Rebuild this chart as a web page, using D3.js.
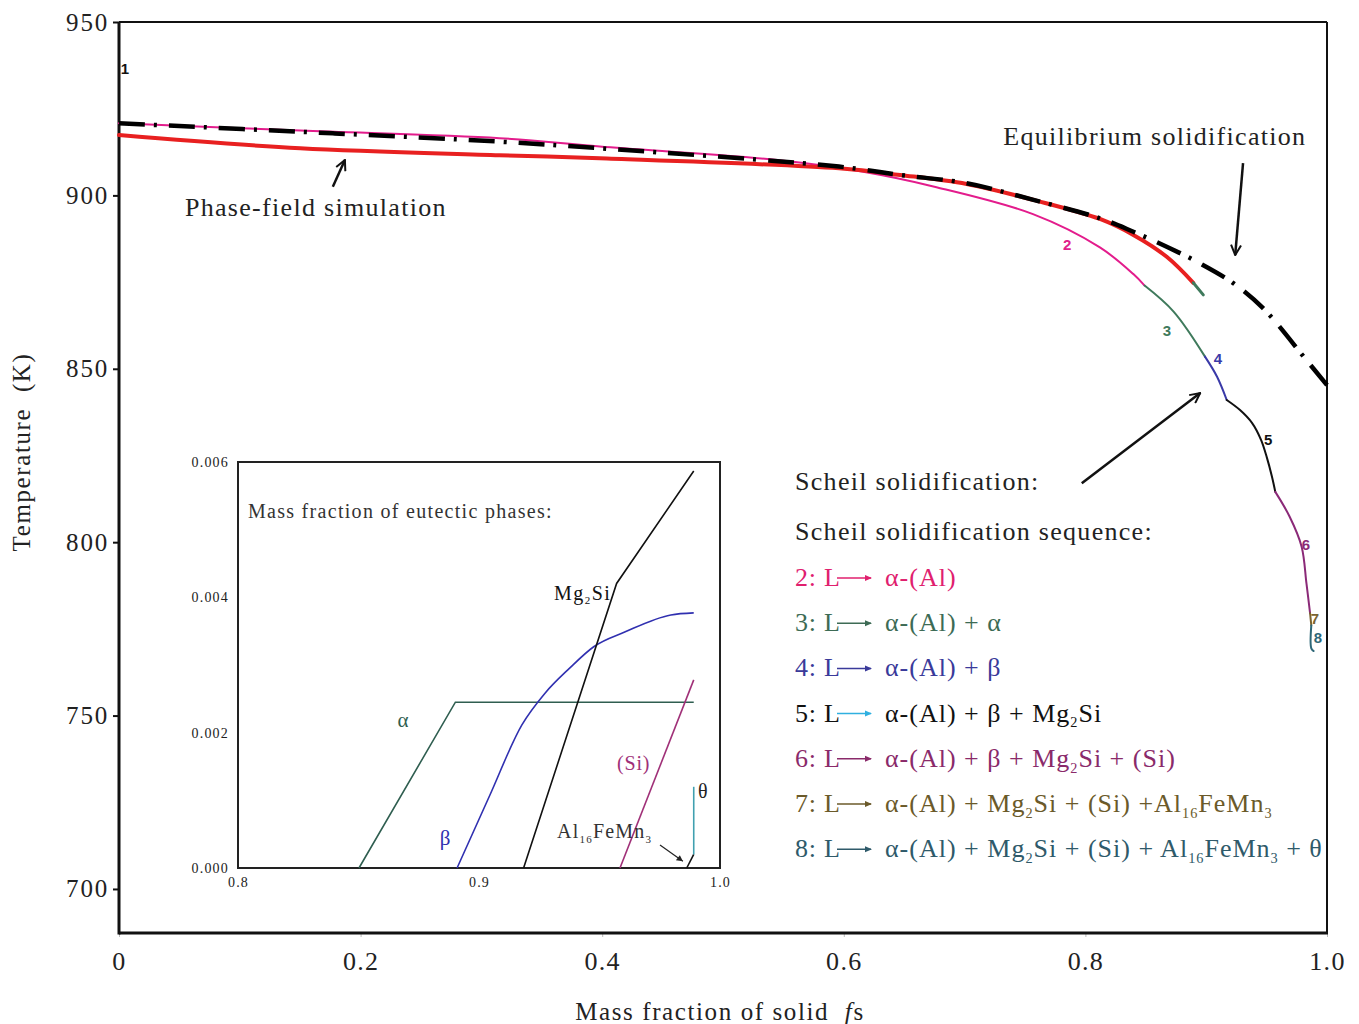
<!DOCTYPE html>
<html>
<head>
<meta charset="utf-8">
<script src="https://cdn.jsdelivr.net/npm/d3@7"></script>
<style>
  body { margin: 0; background: #fff; }
  svg text { font-family: "Liberation Serif", "Times New Roman", serif; }
  .num { font-family: "Liberation Sans", Arial, sans-serif; font-weight: bold; font-size: 15px; letter-spacing: 0; }
</style>
</head>
<body>
<svg id="chart" width="1359" height="1024"></svg>
<script>
// ---- data ----
const xTicks = [0, 0.2, 0.4, 0.6, 0.8, 1.0];
const yTicks = [700, 750, 800, 850, 900, 950];

// [fs, T]
const equilibrium = [[0, 920.8], [0.177, 917.9], [0.315, 915.5], [0.398, 913.6], [0.596, 908.3],
  [0.6465, 905.9], [0.7017, 903.5], [0.757, 898.7], [0.812, 893.4], [0.8397, 889.5], [0.8673, 885.2],
  [0.8949, 880.4], [0.9224, 874.7], [0.9473, 867.4], [0.983, 852.5], [1.0, 845.3]];
const phaseField = [[0, 917.4], [0.15, 913.6], [0.315, 911.6], [0.398, 910.7], [0.596, 907.8],
  [0.6465, 905.9], [0.7017, 903.3], [0.757, 898.7], [0.812, 893.2], [0.8397, 888.6], [0.8673, 882.3],
  [0.8893, 874.8]];
const phaseFieldTail = [[0.8893, 874.8], [0.8976, 871.3]];

const scheil2 = [[0, 920.8], [0.15, 918.7], [0.315, 916.5], [0.398, 914.1], [0.545, 910.2],
  [0.616, 906.8], [0.675, 902.5], [0.7566, 894.6], [0.812, 885.0], [0.8397, 877.3], [0.849, 874.0]];
const scheil3 = [[0.849, 874.0], [0.873, 866.5], [0.899, 853.5]];
const scheil4 = [[0.899, 853.5], [0.909, 847.7], [0.917, 841.0]];
const scheil5 = [[0.917, 841.0], [0.928, 838.1], [0.9379, 834.4], [0.9454, 829.5], [0.9503, 824.3],
  [0.9545, 818.8], [0.9572, 814.5]];
const scheil6 = [[0.9572, 814.5], [0.969, 807.4], [0.979, 798.7], [0.983, 788.1], [0.986, 779.5]];
const scheil7 = [[0.986, 779.5], [0.987, 776.0]];
const scheil8 = [[0.987, 776.0], [0.987, 769.4], [0.989, 768.6]];
const scheilColors = ["#e31c8c", "#3f7a5c", "#3a3aa8", "#111", "#8b2a78", "#7a6432", "#2e6878"];

const stepLabels = ["1", "2", "3", "4", "5", "6", "7", "8"];
const stepLabelPos = [[0.005, 936.7], [0.785, 885.7], [0.8675, 860.9], [0.9098, 853.1],
  [0.9512, 829.5], [0.9826, 799.2], [0.9901, 777.9], [0.9925, 772.4]];
const stepLabelColors = ["#111", "#e0208a", "#3f7a5c", "#3a3aa8", "#111", "#8b2a78", "#7a6432", "#2e6878"];

// legend: Scheil solidification sequence
const legendSteps = ["2", "3", "4", "5", "6", "7", "8"];
const legendTexts = [
  "α-(Al)",
  "α-(Al) + α",
  "α-(Al) + β",
  "α-(Al) + β + Mg_2Si",
  "α-(Al) + β + Mg_2Si + (Si)",
  "α-(Al) + Mg_2Si + (Si) +Al_16FeMn_3",
  "α-(Al) + Mg_2Si + (Si) + Al_16FeMn_3 + θ"
];
const legendColors = ["#e0206e", "#3d6b55", "#3a3a9a", "#111", "#8a2a6a", "#6b5a2a", "#2f5a6a"];
const legendArrowColors = ["#e0206e", "#3d6b55", "#3a3a9a", "#30b0e0", "#8a2a6a", "#6b5a2a", "#2f5a6a"];

// inset: mass fraction of eutectic phases, [fs, fraction]
const insetXTicks = [0.8, 0.9, 1.0];
const insetYTicks = [0, 0.002, 0.004, 0.006];
const alphaPhase = [[0.8502, 0], [0.8902, 0.00245], [0.9891, 0.00245]];
const betaPhase = [[0.8909, 0], [0.9043, 0.00106], [0.9178, 0.002115], [0.9273, 0.00258],
  [0.9375, 0.00295], [0.9476, 0.00327], [0.9607, 0.00349], [0.9796, 0.00374], [0.9891, 0.00377]];
const mg2siPhase = [[0.9185, 0], [0.9571, 0.004205], [0.9891, 0.005867]];
const siPhase = [[0.9585, 0], [0.9891, 0.00278]];
const al16Phase = [[0.9862, 0], [0.9891, 0.0002]];
const thetaPhase = [[0.9891, 0.0002], [0.9891, 0.0012]];

// ---- layout ----
const svg = d3.select("#chart");
const plot = { left: 119, right: 1327, top: 22, bottom: 933 };
const x = d3.scaleLinear().domain([0, 1]).range([plot.left, plot.right]);
const y = d3.scaleLinear().domain([687.3, 950]).range([plot.bottom, plot.top]);

const inset = { left: 238, right: 720, top: 462, bottom: 868 };
const ix = d3.scaleLinear().domain([0.8, 1.0]).range([inset.left, inset.right]);
const iy = d3.scaleLinear().domain([0, 0.006]).range([inset.bottom, inset.top]);

const defs = svg.append("defs");
defs.append("marker")
  .attr("id", "openArrow")
  .attr("viewBox", "0 0 12 12")
  .attr("refX", 11).attr("refY", 6)
  .attr("markerWidth", 12).attr("markerHeight", 12)
  .attr("markerUnits", "userSpaceOnUse")
  .attr("orient", "auto")
  .append("path")
  .attr("d", "M1,1 L11,6 L1,11")
  .attr("fill", "none").attr("stroke", "#111").attr("stroke-width", 2);

// ---- main axes ----
const yAxis = d3.axisLeft(y).tickValues(yTicks).tickSize(6).tickPadding(4);
svg.append("g")
  .attr("transform", "translate(" + plot.left + ",0)")
  .call(yAxis)
  .call(g => g.select(".domain").remove())
  .call(g => g.selectAll("line").attr("stroke", "#111").attr("stroke-width", 2))
  .call(g => g.selectAll("text").attr("font-size", 25).attr("fill", "#222")
    .attr("letter-spacing", 1.8).attr("font-family", "'Liberation Serif', serif"));

const xAxis = d3.axisBottom(x).tickValues(xTicks).tickSize(4).tickPadding(15)
  .tickFormat(d => d === 0 ? "0" : d3.format(".1f")(d));
svg.append("g")
  .attr("transform", "translate(0," + plot.bottom + ")")
  .call(xAxis)
  .call(g => g.select(".domain").remove())
  .call(g => g.selectAll("line").attr("stroke", "#bbb").attr("stroke-width", 1))
  .call(g => g.selectAll("text").attr("font-size", 26).attr("fill", "#222")
    .attr("letter-spacing", 1.3).attr("font-family", "'Liberation Serif', serif"));

// frame: thick left/bottom, thinner top/right
svg.append("line").attr("x1", plot.left).attr("x2", plot.right).attr("y1", plot.top).attr("y2", plot.top)
  .attr("stroke", "#111").attr("stroke-width", 2);
svg.append("line").attr("x1", plot.right).attr("x2", plot.right).attr("y1", plot.top).attr("y2", plot.bottom)
  .attr("stroke", "#111").attr("stroke-width", 2);
svg.append("line").attr("x1", plot.left).attr("x2", plot.left).attr("y1", plot.top).attr("y2", plot.bottom + 1.5)
  .attr("stroke", "#111").attr("stroke-width", 3);
svg.append("line").attr("x1", plot.left).attr("x2", plot.right + 1).attr("y1", plot.bottom).attr("y2", plot.bottom)
  .attr("stroke", "#111").attr("stroke-width", 3);

// axis titles
svg.append("text")
  .attr("transform", "translate(30,452) rotate(-90)")
  .attr("text-anchor", "middle").attr("font-size", 25).attr("fill", "#222")
  .attr("letter-spacing", 1.6)
  .attr("xml:space", "preserve")
  .text("Temperature  (K)");
const xTitle = svg.append("text")
  .attr("x", 720).attr("y", 1020)
  .attr("text-anchor", "middle").attr("font-size", 25).attr("fill", "#222")
  .attr("letter-spacing", 1.6)
  .attr("xml:space", "preserve");
xTitle.append("tspan").text("Mass fraction of solid  ");
xTitle.append("tspan").attr("font-style", "italic").text("f");
xTitle.append("tspan").text("s");

// ---- curves ----
const line = d3.line().x(d => x(d[0])).y(d => y(d[1])).curve(d3.curveCatmullRom.alpha(0.5));
const straight = d3.line().x(d => x(d[0])).y(d => y(d[1]));

const curves = svg.append("g").attr("fill", "none").attr("stroke-linecap", "round");

[scheil2, scheil3, scheil4, scheil5, scheil6, scheil7, scheil8].forEach((pts, i) => {
  curves.append("path")
    .attr("d", (pts.length > 2 ? line : straight)(pts))
    .attr("stroke", scheilColors[i])
    .attr("stroke-width", 2);
});

curves.append("path").attr("d", line(phaseField))
  .attr("stroke", "#e82020").attr("stroke-width", 4);
curves.append("path").attr("d", straight(phaseFieldTail))
  .attr("stroke", "#3f7a5c").attr("stroke-width", 3);

curves.append("path").attr("d", line(equilibrium))
  .attr("stroke", "#000").attr("stroke-width", 4.5)
  .attr("stroke-linecap", "butt")
  .attr("stroke-dasharray", "26,9,3,12");

// step numbers along curves
svg.append("g").selectAll("text")
  .data(stepLabels)
  .join("text")
  .attr("class", "num")
  .attr("x", (d, i) => x(stepLabelPos[i][0]))
  .attr("y", (d, i) => y(stepLabelPos[i][1]))
  .attr("text-anchor", "middle")
  .attr("dominant-baseline", "central")
  .attr("fill", (d, i) => stepLabelColors[i])
  .text(d => d);

// ---- annotations ----
function arrow(a, b) {
  svg.append("line")
    .attr("x1", x(a[0])).attr("y1", y(a[1]))
    .attr("x2", x(b[0])).attr("y2", y(b[1]))
    .attr("stroke", "#111").attr("stroke-width", 2.5)
    .attr("marker-end", "url(#openArrow)");
}
arrow([0.9305, 909.3], [0.924, 882.8]);
arrow([0.177, 902.5], [0.187, 910.2]);
arrow([0.797, 817.0], [0.895, 843.0]);

svg.append("text").attr("x", x(0.732)).attr("y", y(914.5))
  .attr("font-size", 26).attr("letter-spacing", 1.3).attr("fill", "#222").text("Equilibrium solidification");
svg.append("text").attr("x", x(0.0546)).attr("y", y(894.1))
  .attr("font-size", 26).attr("letter-spacing", 1.3).attr("fill", "#222").text("Phase-field simulation");

// ---- legend ----
function addRich(sel, str, size) {
  // "_" followed by digits marks a subscript
  const parts = str.split(/_(\d+)/);
  const shift = size * 0.22;
  let lowered = false;
  parts.forEach((p, k) => {
    if (!p) return;
    const ts = sel.append("tspan").text(p);
    if (k % 2 === 1) {
      ts.attr("font-size", size * 0.55).attr("dy", shift);
      lowered = true;
    } else if (lowered) {
      ts.attr("dy", -shift);
      lowered = false;
    }
  });
}

const legend = { left: 795, top: 490, gap: 45.2, size: 26 };
const lg = svg.append("g").attr("font-size", legend.size);
lg.append("text").attr("x", legend.left).attr("y", legend.top).attr("letter-spacing", 1.3)
  .attr("fill", "#222").text("Scheil solidification:");
lg.append("text").attr("x", legend.left).attr("y", legend.top + 50).attr("letter-spacing", 1.3)
  .attr("fill", "#222").text("Scheil solidification sequence:");

legendSteps.forEach((s, i) => {
  const by = legend.top + 96 + i * legend.gap;
  lg.append("text").attr("x", legend.left).attr("y", by).attr("letter-spacing", 0.8)
    .attr("fill", legendColors[i]).text(s + ": L");
  lg.append("line").attr("x1", legend.left + 42).attr("x2", legend.left + 76)
    .attr("y1", by - 8).attr("y2", by - 8)
    .attr("stroke", legendArrowColors[i]).attr("stroke-width", 1.5);
  lg.append("path")
    .attr("d", "M" + (legend.left + 70) + "," + (by - 11) + " L" + (legend.left + 77) + "," + (by - 8) +
      " L" + (legend.left + 70) + "," + (by - 5) + " Z")
    .attr("fill", legendArrowColors[i]);
  const t = lg.append("text").attr("x", legend.left + 90).attr("y", by).attr("letter-spacing", 1.0)
    .attr("fill", legendColors[i]).attr("xml:space", "preserve");
  addRich(t, legendTexts[i], legend.size);
});

// ---- inset ----
const ins = svg.append("g");
ins.append("rect")
  .attr("x", inset.left).attr("y", inset.top)
  .attr("width", inset.right - inset.left).attr("height", inset.bottom - inset.top)
  .attr("fill", "none").attr("stroke", "#222").attr("stroke-width", 2);

ins.append("g").attr("transform", "translate(" + inset.left + ",0)")
  .call(d3.axisLeft(iy).tickValues(insetYTicks).tickSize(0).tickPadding(9).tickFormat(d3.format(".3f")))
  .call(g => g.select(".domain").remove())
  .call(g => g.selectAll("text").attr("font-size", 14).attr("letter-spacing", 1.2).attr("fill", "#222")
    .attr("font-family", "'Liberation Serif', serif"));
ins.append("g").attr("transform", "translate(0," + inset.bottom + ")")
  .call(d3.axisBottom(ix).tickValues(insetXTicks).tickSize(0).tickPadding(9).tickFormat(d3.format(".1f")))
  .call(g => g.select(".domain").remove())
  .call(g => g.selectAll("text").attr("font-size", 14).attr("letter-spacing", 1.2).attr("fill", "#222")
    .attr("font-family", "'Liberation Serif', serif"));

const iline = d3.line().x(d => ix(d[0])).y(d => iy(d[1]));
const ilineSmooth = d3.line().x(d => ix(d[0])).y(d => iy(d[1])).curve(d3.curveMonotoneX);
const insetSeries = [
  [alphaPhase, "#2f5e50", iline],
  [betaPhase, "#3030b0", ilineSmooth],
  [mg2siPhase, "#111", iline],
  [siPhase, "#a03078", iline],
  [al16Phase, "#111", iline],
  [thetaPhase, "#40a0b0", iline]
];
insetSeries.forEach(s => {
  ins.append("path").attr("d", s[2](s[0]))
    .attr("fill", "none").attr("stroke", s[1]).attr("stroke-width", 1.6);
});

ins.append("text").attr("x", ix(0.8041)).attr("y", iy(0.00517))
  .attr("font-size", 20).attr("letter-spacing", 1.3).attr("fill", "#333").text("Mass fraction of eutectic phases:");
ins.append("text").attr("x", ix(0.8685)).attr("y", iy(0.00208)).attr("text-anchor", "middle")
  .attr("font-size", 21).attr("fill", "#2f5e50").text("α");
ins.append("text").attr("x", ix(0.8859)).attr("y", iy(0.00034)).attr("text-anchor", "middle")
  .attr("font-size", 21).attr("fill", "#3030b0").text("β");
addRich(ins.append("text").attr("x", ix(0.9311)).attr("y", iy(0.00396))
  .attr("font-size", 20).attr("letter-spacing", 1.5).attr("fill", "#111"), "Mg_2Si", 20);
ins.append("text").attr("x", ix(0.9573)).attr("y", iy(0.00145))
  .attr("font-size", 20).attr("letter-spacing", 0.8).attr("fill", "#a03078").text("(Si)");
ins.append("text").attr("x", ix(0.9909)).attr("y", iy(0.00103))
  .attr("font-size", 20).attr("fill", "#222").text("θ");
addRich(ins.append("text").attr("x", ix(0.9324)).attr("y", iy(0.00044))
  .attr("font-size", 20).attr("letter-spacing", 1.2).attr("fill", "#333"), "Al_16FeMn_3", 20);

ins.append("line")
  .attr("x1", ix(0.9751)).attr("y1", iy(0.00034))
  .attr("x2", ix(0.9846)).attr("y2", iy(0.0001))
  .attr("stroke", "#222").attr("stroke-width", 1.2);
ins.append("path")
  .attr("d", d3.line()([[ix(0.9846) - 7, iy(0.0001) - 1], [ix(0.9846), iy(0.0001)], [ix(0.9846) - 3, iy(0.0001) - 6]]))
  .attr("fill", "#222");
</script>
</body>
</html>
